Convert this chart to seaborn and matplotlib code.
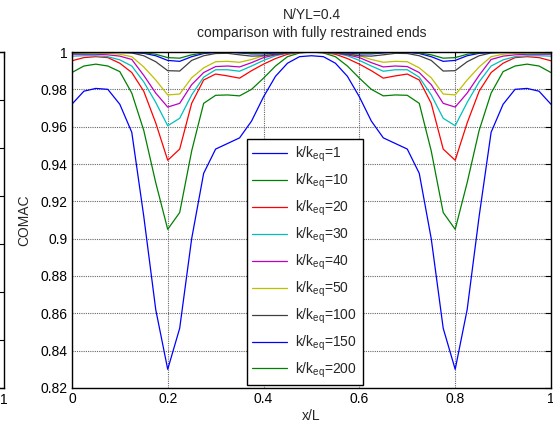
import matplotlib
matplotlib.use("Agg")
import matplotlib.pyplot as plt
import seaborn as sns
import pandas as pd

x_over_L = [0.0, 0.025, 0.05, 0.075, 0.1, 0.125, 0.15, 0.175, 0.2, 0.225, 0.25, 0.275, 0.3,
            0.325, 0.35, 0.375, 0.4, 0.425, 0.45, 0.475, 0.5, 0.525, 0.55, 0.575, 0.6, 0.625,
            0.65, 0.675, 0.7, 0.725, 0.75, 0.775, 0.8, 0.825, 0.85, 0.875, 0.9, 0.925, 0.95,
            0.975, 1.0]

k1 = [0.972, 0.979, 0.9805, 0.980, 0.972, 0.957, 0.912, 0.862, 0.830, 0.852, 0.900, 0.935,
      0.948, 0.951, 0.954, 0.963, 0.976, 0.987, 0.994, 0.9975, 0.998, 0.9975, 0.994, 0.987,
      0.976, 0.963, 0.954, 0.951, 0.948, 0.935, 0.900, 0.852, 0.830, 0.862, 0.912, 0.957,
      0.972, 0.980, 0.9805, 0.979, 0.972]
k10 = [0.989, 0.9925, 0.9935, 0.9925, 0.9895, 0.978, 0.958, 0.930, 0.905, 0.914, 0.947, 0.9725,
       0.9768, 0.977, 0.9765, 0.980, 0.986, 0.9925, 0.9975, 0.9995, 1.0, 0.9995, 0.9975, 0.9925,
       0.986, 0.980, 0.9765, 0.977, 0.9768, 0.9725, 0.947, 0.914, 0.905, 0.930, 0.958, 0.978,
       0.9895, 0.9925, 0.9935, 0.9925, 0.989]
k20 = [0.9953, 0.997, 0.9975, 0.997, 0.994, 0.989, 0.979, 0.962, 0.942, 0.948, 0.9725, 0.985,
       0.9882, 0.9872, 0.986, 0.990, 0.9935, 0.9965, 0.9988, 0.9997, 1.0, 0.9997, 0.9988, 0.9965,
       0.9935, 0.990, 0.986, 0.9872, 0.9882, 0.985, 0.9725, 0.948, 0.942, 0.962, 0.979, 0.989,
       0.994, 0.997, 0.9975, 0.997, 0.9953]
k30 = [0.9978, 0.998, 0.998, 0.9975, 0.9958, 0.9925, 0.984, 0.973, 0.9605, 0.9645, 0.977, 0.9865,
       0.9905, 0.9905, 0.9897, 0.9925, 0.9955, 0.998, 0.9993, 0.9998, 1.0, 0.9998, 0.9993, 0.998,
       0.9955, 0.9925, 0.9897, 0.9905, 0.9905, 0.9865, 0.977, 0.9645, 0.9605, 0.973, 0.984, 0.9925,
       0.9958, 0.9975, 0.998, 0.998, 0.9978]
k40 = [0.9988, 0.9988, 0.9988, 0.9985, 0.9978, 0.996, 0.9875, 0.978, 0.9705, 0.9725, 0.9825, 0.989,
       0.9922, 0.9925, 0.992, 0.9943, 0.997, 0.9985, 0.9995, 1.0, 1.0, 1.0, 0.9995, 0.9985,
       0.997, 0.9943, 0.992, 0.9925, 0.9922, 0.989, 0.9825, 0.9725, 0.9705, 0.978, 0.9875, 0.996,
       0.9978, 0.9985, 0.9988, 0.9988, 0.9988]
k50 = [0.9992, 0.9993, 0.9993, 0.9992, 0.9988, 0.9975, 0.992, 0.985, 0.977, 0.9775, 0.9862, 0.9915,
       0.9948, 0.995, 0.9945, 0.996, 0.998, 0.9992, 0.9998, 1.0, 1.0, 1.0, 0.9998, 0.9992,
       0.998, 0.996, 0.9945, 0.995, 0.9948, 0.9915, 0.9862, 0.9775, 0.977, 0.985, 0.992, 0.9975,
       0.9988, 0.9992, 0.9993, 0.9993, 0.9992]
k100 = [0.9995, 0.9996, 0.9997, 0.9997, 0.9997, 0.9995, 0.998, 0.9948, 0.990, 0.9898, 0.9955, 0.998,
        0.9992, 0.9993, 0.9985, 0.9978, 0.998, 0.9988, 0.9995, 1.0, 1.0, 1.0, 0.9995, 0.9988,
        0.998, 0.9978, 0.9985, 0.9993, 0.9992, 0.998, 0.9955, 0.9898, 0.990, 0.9948, 0.998, 0.9995,
        0.9997, 0.9997, 0.9997, 0.9996, 0.9995]
k150 = [0.9997, 0.9998, 0.9998, 0.9998, 0.9998, 0.9997, 0.9993, 0.998, 0.9955, 0.995, 0.9975, 0.9992,
        0.9998, 1.0, 0.9995, 0.999, 0.999, 0.9995, 1.0, 1.0, 1.0, 1.0, 1.0, 0.9995,
        0.999, 0.999, 0.9995, 1.0, 0.9998, 0.9992, 0.9975, 0.995, 0.9955, 0.998, 0.9993, 0.9997,
        0.9998, 0.9998, 0.9998, 0.9998, 0.9997]
k200 = [0.9998, 0.9999, 0.9999, 0.9999, 0.9999, 0.9999, 0.9996, 0.9988, 0.997, 0.9967, 0.9985, 0.9995,
        1.0, 1.0, 0.9997, 0.9993, 0.9995, 0.9998, 1.0, 1.0, 1.0, 1.0, 1.0, 0.9998,
        0.9995, 0.9993, 0.9997, 1.0, 1.0, 0.9995, 0.9985, 0.9967, 0.997, 0.9988, 0.9996, 0.9999,
        0.9999, 0.9999, 0.9999, 0.9999, 0.9998]

ratios = ["1", "10", "20", "30", "40", "50", "100", "150", "200"]
series = [k1, k10, k20, k30, k40, k50, k100, k150, k200]
colors = ["#0000FF", "#008000", "#FF0000", "#00BFBF", "#BF00BF", "#BFBF00", "#404040",
          "#0000FF", "#008000"]

xticks = [0, 0.2, 0.4, 0.6, 0.8, 1]
xticklabels = ["0", "0.2", "0.4", "0.6", "0.8", "1"]
yticks = [0.82, 0.84, 0.86, 0.88, 0.90, 0.92, 0.94, 0.96, 0.98, 1.0]
yticklabels = ["0.82", "0.84", "0.86", "0.88", "0.9", "0.92", "0.94", "0.96", "0.98", "1"]

sns.set_style("white")
plt.rcParams["font.family"] = ["Liberation Sans", "DejaVu Sans"]
plt.rcParams["mathtext.default"] = "regular"
plt.rcParams["font.size"] = 10

fig = plt.figure(figsize=(5.53, 4.32), dpi=100)

# remnant of a neighbouring panel at the far left
ax0 = fig.add_axes([-0.5, 0.1019, 0.5075, 0.7777])
ax0.set_xlim(0, 1)
ax0.set_ylim(0, 7)
ax0.set_yticks(range(8))
ax0.set_yticklabels([])
ax0.set_xticks([0, 0.2, 0.4, 0.6, 0.8, 1])
ax0.set_xticklabels(["", "", "", "", "", "1"], fontsize=10)
ax0.tick_params(direction="in", right=True, top=True, length=4, width=0.8, colors="black")
for s in ax0.spines.values():
    s.set_color("black")
    s.set_linewidth(1.0)

ax = fig.add_axes([0.130, 0.1019, 0.8664, 0.7777])

rows = []
for r, vals in zip(ratios, series):
    for xv, yv in zip(x_over_L, vals):
        rows.append({"x": xv, "y": yv, "k": r})
df = pd.DataFrame(rows)

for r, c in zip(ratios, colors):
    sub = df[df["k"] == r]
    sns.lineplot(data=sub, x="x", y="y", color=c, linewidth=0.9, ax=ax,
                 label="k/k$_{eq}$=" + r, sort=False, estimator=None)

ax.set_xlim(0, 1)
ax.set_ylim(0.82, 1.0)
ax.set_xticks(xticks)
ax.set_xticklabels(xticklabels)
ax.set_yticks(yticks)
ax.set_yticklabels(yticklabels)
ax.tick_params(direction="in", top=True, right=True, length=4, width=0.8, labelsize=10,
               colors="black", pad=3)
ax.grid(True, color="0.4", linestyle=(0, (1, 1)), linewidth=0.8)
for s in ax.spines.values():
    s.set_color("black")
    s.set_linewidth(1.0)

ax.set_xlabel("x/L", fontsize=10, labelpad=2)
ax.set_ylabel("COMAC", fontsize=10, labelpad=7)
ax.set_title("N/YL=0.4\ncomparison with fully restrained ends", fontsize=10, pad=11,
             linespacing=1.3)

leg = ax.legend(loc="lower left", bbox_to_anchor=(0.365, 0.008), fontsize=10,
                frameon=True, fancybox=False, shadow=False, framealpha=1,
                edgecolor="black", handlelength=2.5, labelspacing=0.55,
                borderpad=0.4, handletextpad=0.6, borderaxespad=0)
leg.get_frame().set_linewidth(1.0)

fig.savefig("out.png", dpi=100)
